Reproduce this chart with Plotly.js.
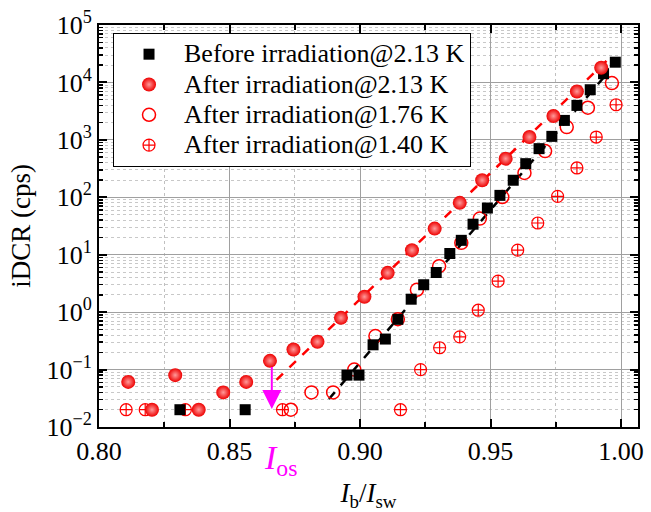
<!DOCTYPE html>
<html>
<head>
<meta charset="utf-8">
<script src="https://cdn.plot.ly/plotly-3.0.1.min.js"></script>
<style>html,body{margin:0;padding:0;background:#fff;}#chart{width:651px;height:512px;}</style>
</head>
<body>
<div id="chart"></div>
<script>
// Before irradiation @ 2.13 K
const beforeX = [0.831, 0.856, 0.895, 0.8996, 0.905, 0.9097, 0.9145, 0.9196, 0.9244, 0.9292, 0.9344, 0.9388, 0.9433, 0.9488, 0.9536, 0.9587, 0.9635, 0.9686, 0.9735, 0.9783, 0.9831, 0.9882, 0.9933, 0.9978];
const beforeY = [0.02, 0.02, 0.08, 0.08, 0.27, 0.34, 0.75, 1.68, 3.0, 4.9, 10.5, 17.8, 34, 65, 108, 198, 385, 703, 1150, 2180, 3980, 7460, 14200, 22500];
// After irradiation @ 2.13 K
const after213X = [0.8112, 0.8203, 0.8292, 0.8382, 0.8476, 0.8564, 0.8655, 0.8745, 0.8837, 0.8927, 0.9017, 0.9106, 0.9199, 0.9286, 0.9382, 0.9468, 0.9558, 0.9649, 0.9741, 0.9831, 0.9924];
const after213Y = [0.061, 0.02, 0.08, 0.02, 0.04, 0.061, 0.142, 0.224, 0.305, 0.795, 1.85, 4.83, 12.0, 28.5, 80, 198, 471, 1120, 2600, 6970, 18000];
// After irradiation @ 1.76 K
const after176X = [0.8735, 0.8814, 0.8897, 0.8978, 0.9059, 0.9145, 0.9218, 0.9303, 0.9388, 0.9459, 0.9545, 0.963, 0.9709, 0.9792, 0.9873, 0.9965];
const after176Y = [0.02, 0.04, 0.04, 0.10, 0.383, 0.755, 2.45, 6.3, 16.1, 42.6, 101, 265, 638, 1670, 3630, 9730];
// After irradiation @ 1.40 K
const after140X = [0.8104, 0.8177, 0.8331, 0.8703, 0.9155, 0.9232, 0.9305, 0.9382, 0.9453, 0.9529, 0.9604, 0.9681, 0.9757, 0.9831, 0.9905, 0.9981];
const after140Y = [0.02, 0.02, 0.02, 0.02, 0.02, 0.10, 0.24, 0.372, 1.08, 3.46, 12.0, 35.7, 104, 324, 1120, 4090];
// Fit lines
const fitAfterX = [0.868, 0.9946];
const fitAfterY = [0.066, 24100];
const fitBeforeX = [0.8881, 0.9954];
const fitBeforeY = [0.0307, 15700];
// Ticks / labels
const xTickVals = [0.80, 0.85, 0.90, 0.95, 1.00];
const xTickText = ["0.80", "0.85", "0.90", "0.95", "1.00"];
const yTickVals = [1e-2, 1e-1, 1e0, 1e1, 1e2, 1e3, 1e4, 1e5];
const yTickText = ["10<sup>\u22122</sup>", "10<sup>\u22121</sup>", "10<sup>0</sup>", "10<sup>1</sup>", "10<sup>2</sup>", "10<sup>3</sup>", "10<sup>4</sup>", "10<sup>5</sup>"];
const seriesNames = ["Before irradiation@2.13 K", "After irradiation@2.13 K", "After irradiation@1.76 K", "After irradiation@1.40 K"];
const osX = 0.8662;

const minorY = [];
for (let e = -2; e < 5; e++) for (let m = 2; m <= 9; m++) minorY.push(m * Math.pow(10, e));

const FONT = "Liberation Serif, Times New Roman, serif";
const red = "#ff0000";
const big = s => '<span style="font-size:26px">' + s + '</span>';

const traces = [
  {x: fitAfterX, y: fitAfterY, mode: "lines", line: {color: red, dash: "dash", width: 2.5}, showlegend: false, hoverinfo: "skip"},
  {x: fitBeforeX, y: fitBeforeY, mode: "lines", line: {color: "#000", dash: "dash", width: 2.5}, showlegend: false, hoverinfo: "skip"},
  {x: after140X, y: after140Y, mode: "markers", name: big(seriesNames[3]), legendrank: 4, marker: {symbol: "circle-cross-open", size: 12, color: red, line: {width: 1.2, color: red}}},
  {x: after176X, y: after176Y, mode: "markers", name: big(seriesNames[2]), legendrank: 3, marker: {symbol: "circle-open", size: 13, color: red, line: {width: 1.5, color: red}}},
  {x: beforeX, y: beforeY, mode: "markers", name: big(seriesNames[0]), legendrank: 1, marker: {symbol: "square", size: 11, color: "#000"}},
  {x: after213X, y: after213Y, mode: "markers", name: big(seriesNames[1]), legendrank: 2, marker: {symbol: "circle", size: 14, color: "#ee0000", gradient: {type: "radial", color: "#ff9a9a"}, line: {width: 0}}}
];

const layout = {
  width: 651, height: 512,
  margin: {l: 99, r: 13, t: 25, b: 85},
  paper_bgcolor: "#fff", plot_bgcolor: "#fff",
  font: {family: FONT, size: 26, color: "#000"},
  showlegend: true,
  legend: {x: 0.026, y: 0.98, xanchor: "left", yanchor: "top", bgcolor: "#fff", bordercolor: "#000", borderwidth: 1, font: {family: FONT, size: 21}, tracegroupgap: 0, itemwidth: 60},
  xaxis: {
    range: [0.80, 1.0065], tickmode: "array", tickvals: xTickVals, ticktext: xTickText,
    ticks: "inside", ticklen: 8, tickwidth: 2, tickcolor: "#000",
    showline: true, linewidth: 2, linecolor: "#000", mirror: "allticks",
    showgrid: true, gridcolor: "#a0a0a0", gridwidth: 1,
    zeroline: false,
    tickfont: {family: FONT, size: 26},
    minor: {tickmode: "array", tickvals: [0.825, 0.875, 0.925, 0.975], ticks: "inside", ticklen: 5, tickwidth: 2, tickcolor: "#000", showgrid: true, gridcolor: "#c0c0c0", griddash: "dot", gridwidth: 1},
    title: {text: "<i>I</i><sub>b</sub>/<i>I</i><sub>sw</sub>", font: {family: FONT, size: 27}, standoff: 30}
  },
  yaxis: {
    type: "log", range: [-2, 5], tickmode: "array", tickvals: yTickVals, ticktext: yTickText,
    ticks: "inside", ticklen: 8, tickwidth: 2, tickcolor: "#000",
    showline: true, linewidth: 2, linecolor: "#000", mirror: "allticks",
    showgrid: true, gridcolor: "#a0a0a0", gridwidth: 1,
    zeroline: false,
    tickfont: {family: FONT, size: 26},
    minor: {tickmode: "array", tickvals: minorY, ticks: "inside", ticklen: 4, tickwidth: 1.5, tickcolor: "#000", showgrid: true, gridcolor: "#c8c8c8", griddash: "dot", gridwidth: 1},
    title: {text: "iDCR (cps)", font: {family: FONT, size: 27}, standoff: 8}
  },
  annotations: [
    {x: osX, y: Math.log10(0.0205), xref: "x", yref: "y", ax: osX, ay: Math.log10(0.118), axref: "x", ayref: "y",
     showarrow: true, arrowhead: 2, arrowsize: 1.9, arrowwidth: 2, arrowcolor: "#ff00ff", text: ""},
    {x: osX + 0.0035, y: -0.025, xref: "x", yref: "paper", xanchor: "center", yanchor: "top", showarrow: false,
     text: "<i>I</i><sub>os</sub>", font: {family: FONT, size: 34, color: "#ff00ff"}}
  ]
};

Plotly.newPlot("chart", traces, layout, {displayModeBar: false, staticPlot: true});
</script>
</body>
</html>
